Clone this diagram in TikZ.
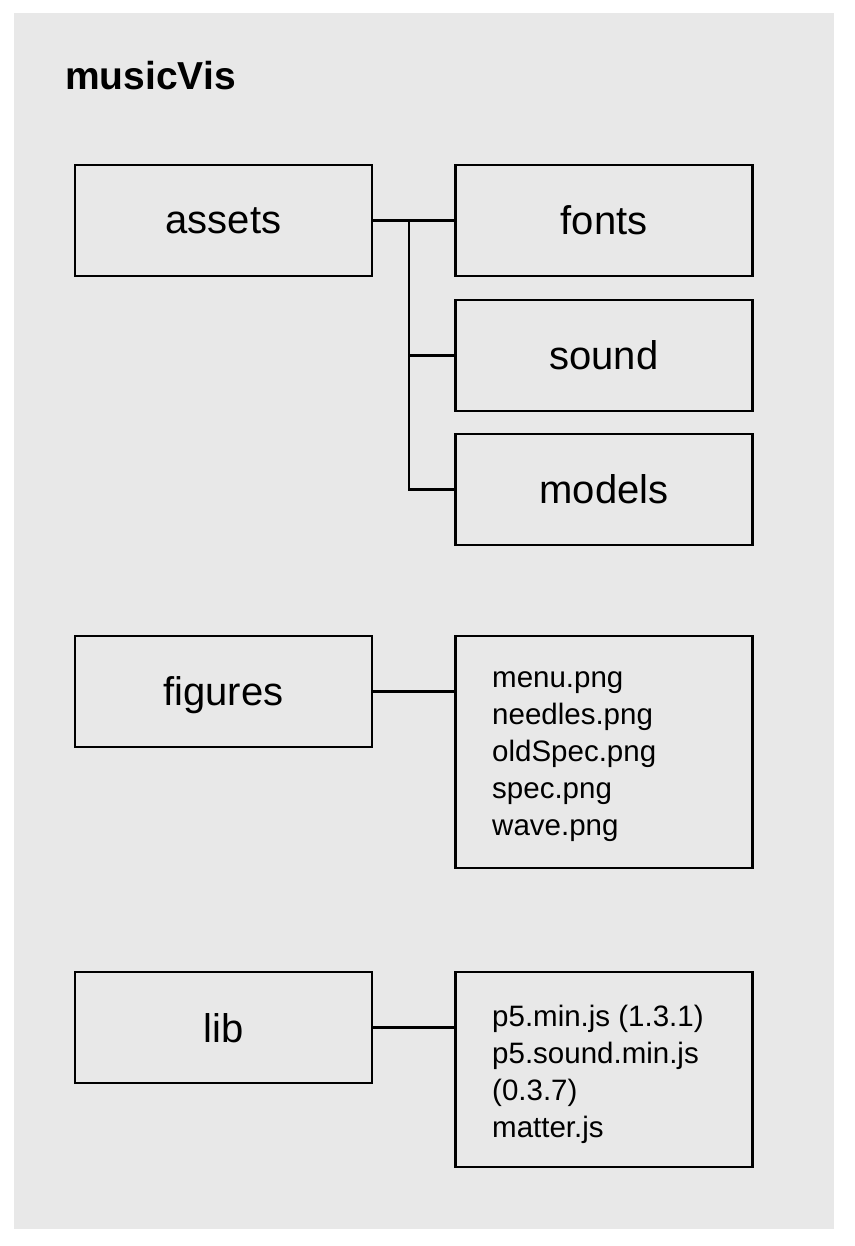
\documentclass[tikz,border=0pt]{standalone}
\usepackage{fontspec}
\setmainfont{Liberation Sans}
\begin{document}
\begin{tikzpicture}[x=1pt,y=-1pt,
  box/.style={draw=black,line width=2.6pt,minimum width=297pt,minimum height=111pt,inner sep=0pt,text depth=0pt,font=\fontsize{40}{46}\selectfont},
  listbox/.style={draw=black,line width=2.6pt,minimum width=297pt,inner sep=0pt},
  listtext/.style={anchor=north west,align=left,inner sep=0pt,font=\fontsize{29.5}{37}\selectfont},
  conn/.style={line width=2.6pt}]
\useasboundingbox (0,0) rectangle (854,1246);
\fill[white] (0,0) rectangle (854,1246);
\fill[gray!18] (14,13) rectangle (834,1229);
\node[anchor=base west,font=\bfseries\fontsize{39}{44}\selectfont,inner sep=0pt] (title) at (65,90) {musicVis};
\node[box] (assets) at (223.5,220.5) {assets};
\node[box] (fonts) at (604,220.5) {fonts};
\node[box] (sound) at (604,355.5) {sound};
\node[box] (models) at (604,489.5) {models};
\node[box] (figures) at (223.5,691.5) {figures};
\node[listbox,minimum height=232pt] (figlist) at (604,752) {};
\node[listtext] (figtext) at (492,671) {menu.png\\needles.png\\oldSpec.png\\spec.png\\wave.png};
\node[box] (lib) at (223.5,1027.5) {lib};
\node[listbox,minimum height=195pt] (liblist) at (604,1069.5) {};
\node[listtext] (libtext) at (492,1005) {p5.min.js (1.3.1)\\p5.sound.min.js\\(0.3.7)\\matter.js};
\coordinate (j) at (409,220.5);
\draw[conn] (assets.east) -- (fonts.west);
\draw[conn] (j) |- (sound.west);
\draw[conn] (j) |- (models.west);
\draw[conn] (figures.east) -- (figures.east -| figlist.west);
\draw[conn] (lib.east) -- (lib.east -| liblist.west);
\end{tikzpicture}
\end{document}
